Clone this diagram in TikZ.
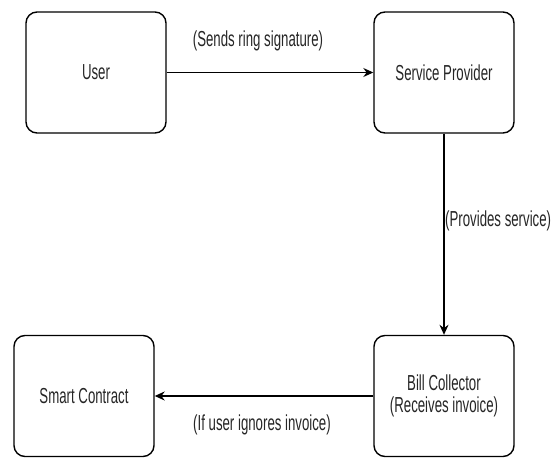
\documentclass[tikz,border=0pt]{standalone}
\usepackage{fontspec}
\setmainfont{Liberation Sans}[FakeStretch=0.61]
\usetikzlibrary{arrows.meta}
\begin{document}
\begin{tikzpicture}[x=1pt,y=-1pt,
  box/.style={draw=black, line width=1.4pt, rounded corners=11pt, minimum width=140pt, minimum height=121pt, inner sep=0pt, align=center, font=\fontsize{21.7}{22}\selectfont, text=black!85},
  lbl/.style={inner sep=0pt, font=\fontsize{21.7}{22}\selectfont, text=black!85},
  conn/.style={draw=black, line width=1.3pt, -{Stealth[length=10pt,width=9pt]}}]
\useasboundingbox (0,0) rectangle (560,458);
\node[box] (user) at (96,72.5) {User};
\node[box] (sp) at (444,72.5) {Service Provider};
\node[box] (bc) at (444,396) {Bill Collector\\(Receives invoice)};
\node[box] (sc) at (84,396) {Smart Contract};
\draw[conn] (user) -- (sp);
\draw[conn] (sp) -- (bc);
\draw[conn] (bc) -- (sc);
\node[lbl] (l1) at (258,41) {(Sends ring signature)};
\node[lbl, anchor=west] (l2) at (445,221) {(Provides service)};
\node[lbl] (l3) at (262,425) {(If user ignores invoice)};
\end{tikzpicture}
\end{document}
